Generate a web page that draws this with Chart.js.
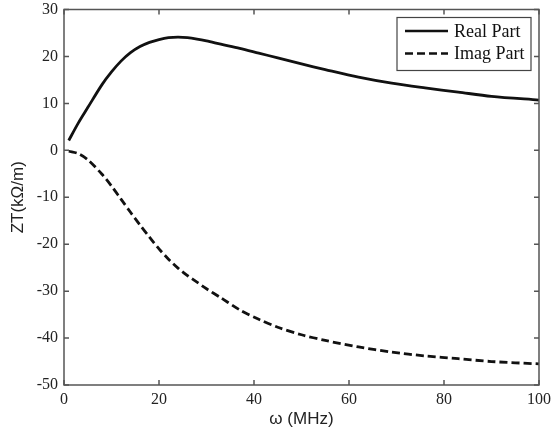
<!DOCTYPE html>
<html>
<head>
<meta charset="utf-8">
<script src="https://cdn.jsdelivr.net/npm/chart.js@4"></script>
<style>
  body { margin: 0; background: #fff; }
  canvas { display: block; }
</style>
</head>
<body>
<canvas id="zt-chart" width="552" height="434"></canvas>
<script>
// frequency samples (MHz)
const freq = [1, 3, 5, 8, 10, 12, 14, 16, 18, 20, 22, 24, 26, 28, 30, 33, 37, 41, 45, 50, 55, 62, 69, 76, 83, 90, 100];
const realPart = [2.1, 5.8, 9.1, 14.0, 16.7, 19.0, 20.8, 22.1, 23.0, 23.6, 24.0, 24.1, 24.0, 23.7, 23.3, 22.6, 21.7, 20.7, 19.7, 18.4, 17.2, 15.6, 14.3, 13.3, 12.4, 11.5, 10.7];
const imagPart = [-0.2, -0.7, -2.0, -5.1, -7.6, -10.4, -13.2, -15.9, -18.5, -21.0, -23.2, -25.1, -26.7, -28.1, -29.5, -31.4, -34.0, -36.0, -37.7, -39.3, -40.5, -41.9, -43.0, -43.8, -44.4, -45.0, -45.5];
const xTicks = [0, 20, 40, 60, 80, 100];
const yTicks = [-50, -40, -30, -20, -10, 0, 10, 20, 30];

const serif = '"Liberation Serif", "Times New Roman", serif';
const sans = '"Liberation Sans", Arial, sans-serif';

function toPoints(xs, ys) {
    return xs.map((x, i) => ({ x: x, y: ys[i] }));
}

// frame + inward ticks on all four sides
const framePlugin = {
    id: "frame",
    afterDraw(chart) {
        const ctx = chart.ctx;
        const a = chart.chartArea;
        const xs = chart.scales.x, ys = chart.scales.y;
        const len = 5;
        ctx.save();
        ctx.strokeStyle = "#555";
        ctx.lineWidth = 1.5;
        ctx.strokeRect(a.left, a.top, a.right - a.left, a.bottom - a.top);
        ctx.beginPath();
        xTicks.forEach(v => {
            const px = xs.getPixelForValue(v);
            ctx.moveTo(px, a.bottom); ctx.lineTo(px, a.bottom - len);
            ctx.moveTo(px, a.top); ctx.lineTo(px, a.top + len);
        });
        yTicks.forEach(v => {
            const py = ys.getPixelForValue(v);
            ctx.moveTo(a.left, py); ctx.lineTo(a.left + len, py);
            ctx.moveTo(a.right, py); ctx.lineTo(a.right - len, py);
        });
        ctx.stroke();
        ctx.restore();
    }
};

// boxed legend in the top right corner of the plot
const boxLegend = {
    id: "boxLegend",
    afterDraw(chart) {
        const ctx = chart.ctx;
        const a = chart.chartArea;
        const w = 134, h = 53;
        const x0 = a.right - 8 - w, y0 = a.top + 8;
        ctx.save();
        ctx.fillStyle = "#fff";
        ctx.fillRect(x0, y0, w, h);
        ctx.strokeStyle = "#444";
        ctx.lineWidth = 1.2;
        ctx.strokeRect(x0, y0, w, h);
        ctx.font = "18px " + serif;
        ctx.textBaseline = "middle";
        chart.data.datasets.forEach((ds, i) => {
            const ly = y0 + 13.5 + i * 22.5;
            ctx.strokeStyle = ds.borderColor;
            ctx.lineWidth = 2.5;
            ctx.setLineDash(ds.borderDash || []);
            ctx.beginPath();
            ctx.moveTo(x0 + 8, ly);
            ctx.lineTo(x0 + 51, ly);
            ctx.stroke();
            ctx.setLineDash([]);
            ctx.fillStyle = "#111";
            ctx.fillText(ds.label, x0 + 57, ly + 1);
        });
        ctx.restore();
    }
};

new Chart(document.getElementById("zt-chart").getContext("2d"), {
    type: "line",
    data: {
        datasets: [
            {
                label: "Real Part",
                data: toPoints(freq, realPart),
                borderColor: "#111",
                borderWidth: 2.8,
                pointRadius: 0,
                tension: 0.3,
                fill: false
            },
            {
                label: "Imag Part",
                data: toPoints(freq, imagPart),
                borderColor: "#111",
                borderWidth: 2.8,
                borderDash: [8, 4],
                pointRadius: 0,
                tension: 0.3,
                fill: false
            }
        ]
    },
    options: {
        responsive: false,
        animation: false,
        layout: { padding: { left: 0, right: 13, top: 9.5, bottom: 0 } },
        plugins: {
            legend: { display: false },
            tooltip: { enabled: false }
        },
        scales: {
            x: {
                type: "linear",
                min: 0,
                max: 100,
                afterFit(scale) {
                    scale.height = 49;
                    scale.paddingLeft = 0;
                    scale.paddingRight = 0;
                },
                afterBuildTicks(scale) { scale.ticks = xTicks.map(v => ({ value: v })); },
                grid: { display: false, drawTicks: false },
                border: { display: false },
                ticks: { padding: 5, color: "#222", font: { family: serif, size: 16 } },
                title: {
                    display: true,
                    text: "ω (MHz)",
                    color: "#222",
                    font: { family: sans, size: 17 },
                    padding: { top: 0, bottom: 4 }
                }
            },
            y: {
                min: -50,
                max: 30,
                afterFit(scale) {
                    scale.width = 64;
                    scale.paddingTop = 0;
                    scale.paddingBottom = 0;
                },
                afterBuildTicks(scale) { scale.ticks = yTicks.map(v => ({ value: v })); },
                grid: { display: false, drawTicks: false },
                border: { display: false },
                ticks: { padding: 6, color: "#222", font: { family: serif, size: 16 } },
                title: {
                    display: true,
                    text: "ZT(kΩ/m)",
                    color: "#222",
                    font: { family: sans, size: 17 },
                    padding: { top: 8, bottom: 0 }
                }
            }
        }
    },
    plugins: [framePlugin, boxLegend]
});
</script>
</body>
</html>
